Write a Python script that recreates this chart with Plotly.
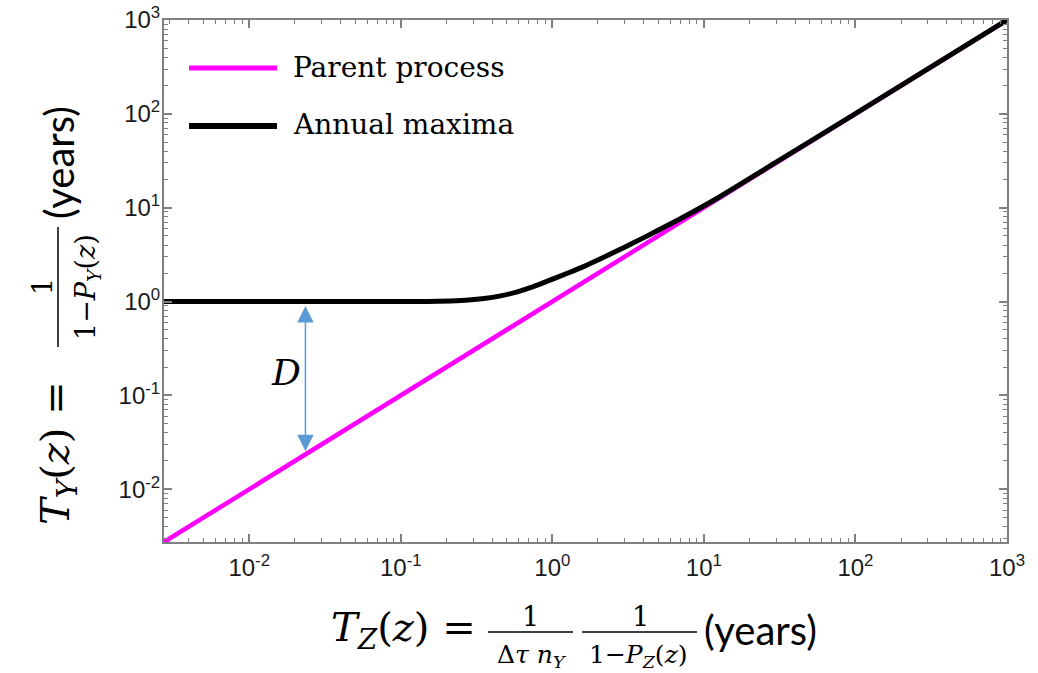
import math
import plotly.graph_objects as go

# ---------------- data ----------------
parent_x = [0.00274, 0.01, 0.1, 1, 10, 100, 1000]
parent_y = [0.00274, 0.01, 0.1, 1, 10, 100, 1000]

annual_x = [0.00274, 0.01, 0.05, 0.1, 0.15, 0.214, 0.28, 0.355, 0.456, 0.588, 0.757, 0.974, 1.256,
            1.62, 2.08, 2.68, 3.46, 4.45, 7.39, 12.25, 30, 100, 1000]
annual_y = [1.0, 1.0, 1.0, 1.0, 1.003, 1.015, 1.036, 1.075, 1.15, 1.27, 1.45, 1.70, 2.00,
            2.37, 2.85, 3.47, 4.25, 5.22, 8.0, 12.6, 30.5, 100.5, 1000.5]

series_names = ["Parent process", "Annual maxima"]

x_tickvals = [0.01, 0.1, 1, 10, 100, 1000]
x_ticktext = ["10<sup>-2</sup>", "10<sup>-1</sup>", "10<sup>0</sup>", "10<sup>1</sup>", "10<sup>2</sup>", "10<sup>3</sup>"]
y_tickvals = [0.01, 0.1, 1, 10, 100, 1000]
y_ticktext = ["10<sup>-2</sup>", "10<sup>-1</sup>", "10<sup>0</sup>", "10<sup>1</sup>", "10<sup>2</sup>", "10<sup>3</sup>"]

axis_min = 0.00274
axis_max = 1000

# D arrow (x position, bottom and top tips)
d_x = 0.0235
d_bottom = 0.0254
d_top = 0.93

# ---------------- layout helpers (page pixel -> paper) ----------------
W_FIG, H_FIG = 1038, 673
L, R, T, B = 164, 1007, 20, 542  # plot area in page pixels
PW, PH = R - L, B - T


def px(xp):
    return (xp - L) / PW


def py(yp):
    return (B - yp) / PH


MAGENTA = "#FF00FF"
AXIS_GRAY = "#808080"
ARROW_BLUE = "#5B9BD5"
SERIF = "DejaVu Serif"
SANS = "Lato"

fig = go.Figure()
fig.add_trace(go.Scatter(x=parent_x, y=parent_y, mode="lines", name=series_names[0],
                         line=dict(color=MAGENTA, width=4.5), showlegend=False))
fig.add_trace(go.Scatter(x=annual_x, y=annual_y, mode="lines", name=series_names[1],
                         line=dict(color="black", width=5, shape="spline", smoothing=0.7),
                         showlegend=False))

axis_common = dict(
    type="log",
    range=[math.log10(axis_min), math.log10(axis_max)],
    showgrid=False, zeroline=False,
    showline=True, linecolor=AXIS_GRAY, linewidth=2, mirror="ticks",
    ticks="inside", ticklen=8, tickwidth=1.5, tickcolor=AXIS_GRAY,
    tickmode="array", ticklabeloverflow="allow",
    minor=dict(ticks="inside", ticklen=4, tickwidth=1.2, tickcolor=AXIS_GRAY, dtick="D1", showgrid=False),
    tickfont=dict(family="Liberation Sans", size=24, color="#1a1a1a"),
)

fig.update_xaxes(**axis_common, tickvals=x_tickvals, ticktext=x_ticktext, ticklabelstandoff=3)
fig.update_yaxes(**axis_common, tickvals=y_tickvals, ticktext=y_ticktext, ticklabelstandoff=-3)

annotations = []
shapes = []

# D arrow
annotations.append(dict(
    x=math.log10(d_x), y=math.log10(d_bottom), ax=math.log10(d_x), ay=math.log10(d_top),
    xref="x", yref="y", axref="x", ayref="y", text="", showarrow=True,
    arrowhead=2, arrowside="end+start", arrowsize=2.2, arrowwidth=1.5, arrowcolor=ARROW_BLUE,
    standoff=0, startstandoff=0,
))
annotations.append(dict(x=px(286), y=py(372), text="<i>D</i>",
                        font=dict(family=SERIF, size=36, color="black")))

# Legend (drawn manually to match the long legend lines)
for name, color, ly, ty, lw in [(series_names[0], MAGENTA, 68, 67, 5), (series_names[1], "black", 126, 124, 6)]:
    shapes.append(dict(type="line", xref="paper", yref="paper", x0=px(189), x1=px(277), y0=py(ly), y1=py(ly),
                       line=dict(color=color, width=lw)))
    annotations.append(dict(x=px(291), y=py(ty), text=name, xanchor="left",
                            font=dict(family=SERIF, size=28, color="black")))

# ---- x-axis title: T_Z(z) = 1/(Δτ n_Y) · 1/(1−P_Z(z)) (years)
mfont = dict(family=SERIF, size=40, color="black")
ffont = dict(family=SERIF, size=27, color="black")
dfont = dict(family=SERIF, size=25, color="black")
yfont = dict(family=SANS, size=40, color="black")
annotations += [
    dict(x=px(403), y=py(630), text="<i>T</i><sub><i>Z</i></sub>(<i>z</i>) =", font=mfont),
    dict(x=px(530), y=py(616), text="1", font=ffont),
    dict(x=px(531), y=py(656), text="Δ<i>τ</i> <i>n</i><sub><i>Y</i></sub>", font=dfont),
    dict(x=px(640), y=py(616), text="1", font=ffont),
    dict(x=px(638), y=py(656), text="1−<i>P</i><sub><i>Z</i></sub>(<i>z</i>)", font=dfont),
    dict(x=px(760), y=py(630), text="(years)", font=yfont),
]
shapes += [
    dict(type="line", xref="paper", yref="paper", x0=px(488), x1=px(573), y0=py(632), y1=py(632),
         line=dict(color="black", width=1.5)),
    dict(type="line", xref="paper", yref="paper", x0=px(582), x1=px(697), y0=py(632), y1=py(632),
         line=dict(color="black", width=1.5)),
]

# ---- y-axis title (rotated): T_Y(z) = 1/(1−P_Y(z)) (years)
annotations += [
    dict(x=px(58), y=py(453), text="<i>T</i><sub><i>Y</i></sub>(<i>z</i>) =", font=mfont, textangle=-90),
    dict(x=px(42), y=py(287), text="1", font=ffont, textangle=-90),
    dict(x=px(87), y=py(287), text="1−<i>P</i><sub><i>Y</i></sub>(<i>z</i>)", font=ffont, textangle=-90),
    dict(x=px(59), y=py(163), text="(years)", font=yfont, textangle=-90),
]
shapes.append(dict(type="line", xref="paper", yref="paper", x0=px(58), x1=px(58), y0=py(227), y1=py(347),
                   line=dict(color="black", width=1.5)))

for a in annotations:
    a.setdefault("xref", "paper")
    a.setdefault("yref", "paper")
    a.setdefault("showarrow", False)
    a.setdefault("xanchor", "center")
    a.setdefault("yanchor", "middle")

fig.update_layout(
    width=W_FIG, height=H_FIG,
    margin=dict(l=L, r=W_FIG - R, t=T, b=H_FIG - B, autoexpand=False),
    paper_bgcolor="white", plot_bgcolor="white",
    showlegend=False,
    annotations=annotations, shapes=shapes,
)

fig.write_html("out.html", config={"displayModeBar": False},
               post_script="document.body.style.margin='0px';document.body.style.overflow='hidden';")
